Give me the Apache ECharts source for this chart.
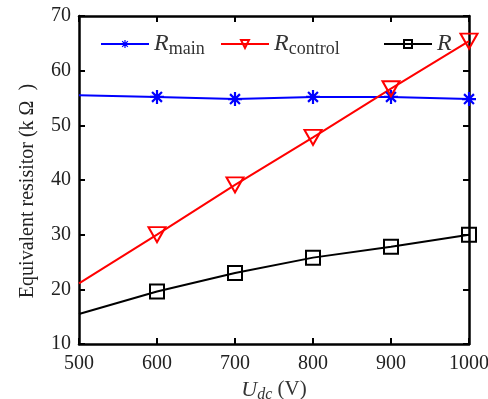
<!DOCTYPE html>
<html>
<head>
<meta charset="utf-8">
<script src="https://cdn.jsdelivr.net/npm/echarts@6/dist/echarts.min.js"></script>
<style>
  html, body { margin: 0; padding: 0; background: #fff; }
  #chart { width: 488px; height: 399px; }
</style>
</head>
<body>
<div id="chart"></div>
<script>
const udc = [500, 600, 700, 800, 900, 1000]
const rMain = [55.5, 55.2, 54.8, 55.2, 55.2, 54.8]
const rControl = [21.1, 30.0, 39.1, 47.8, 56.7, 65.4]
const rTotal = [15.5, 19.6, 23.0, 25.8, 27.8, 30.0]

const serif = 'Liberation Serif'
const star = 'path://M0,-10L0,10M-7.07,-7.07L7.07,7.07M-7.07,7.07L7.07,-7.07M-10,0L10,0'

// first point of every curve has no marker
const pts = (vals) => vals.map((v, i) => i === 0 ? { value: [udc[i], v], symbol: 'none' } : [udc[i], v])

const chart = echarts.init(document.getElementById('chart'))

const nameRich = {
  r: { fontFamily: serif, fontStyle: 'italic', fontSize: 24, color: '#333' },
  s: { fontFamily: serif, fontSize: 18, color: '#333', padding: [11, 0, 0, 0] }
}
const legendBase = {
  top: 27,
  itemWidth: 48,
  itemHeight: 10,
  itemGap: 4,
  textStyle: { rich: nameRich },
  formatter(name) {
    if (name === 'R') return '{r|R}'
    return '{r|R}{s|' + name.slice(1) + '}'
  }
}
const axisCommon = {
  axisLine: { show: true, lineStyle: { color: '#000', width: 2.5 } },
  axisTick: { show: true, inside: true, length: 6, lineStyle: { color: '#000', width: 2 } },
  splitLine: { show: false }
}

chart.setOption({
  animation: false,
  backgroundColor: '#fff',
  grid: { left: 79, right: 19, top: 16, bottom: 55, outerBoundsMode: 'none', containLabel: false },
  legend: [
    Object.assign({ left: 95, data: ['Rmain'], itemStyle: { borderWidth: 1.2 } }, legendBase),
    Object.assign({ left: 215, data: ['Rcontrol'] }, legendBase),
    Object.assign({ left: 378, data: ['R'] }, legendBase)
  ],
  xAxis: [
    Object.assign({
      type: 'value', min: 500, max: 1000, interval: 100,
      name: '{u|U}{d|dc}{v| (V)}',
      nameLocation: 'middle', nameGap: 27,
      nameTextStyle: {
        rich: {
          u: { fontFamily: serif, fontStyle: 'italic', fontSize: 22, color: '#333' },
          d: { fontFamily: serif, fontStyle: 'italic', fontSize: 16, color: '#333', padding: [10, 0, 0, 0] },
          v: { fontFamily: serif, fontSize: 21, color: '#333' }
        }
      },
      axisLabel: { fontFamily: serif, fontSize: 20, color: '#222', margin: 10, formatter: (v) => String(v) }
    }, axisCommon),
    Object.assign({
      type: 'value', min: 500, max: 1000, interval: 100, position: 'top',
      axisLabel: { show: false }
    }, axisCommon)
  ],
  yAxis: [
    Object.assign({
      type: 'value', min: 10, max: 70, interval: 10,
      name: 'Equivalent resisitor (k Ω  )',
      nameLocation: 'middle', nameGap: 41,
      nameTextStyle: { fontFamily: serif, fontSize: 20, color: '#222', padding: [0, 22, 0, 0] },
      axisLabel: { fontFamily: serif, fontSize: 20, color: '#222', margin: 8 }
    }, axisCommon),
    Object.assign({
      type: 'value', min: 10, max: 70, interval: 10, position: 'right',
      axisLabel: { show: false }
    }, axisCommon)
  ],
  series: [
    {
      name: 'Rmain', type: 'line', data: pts(rMain),
      symbol: star, symbolSize: 14,
      lineStyle: { color: '#0000ff', width: 2 },
      itemStyle: { color: '#0000ff', borderColor: '#0000ff', borderWidth: 2.2 }
    },
    {
      name: 'Rcontrol', type: 'line', data: pts(rControl),
      symbol: 'triangle', symbolRotate: 180, symbolSize: [17, 15],
      lineStyle: { color: '#ff0000', width: 2 },
      itemStyle: { color: 'rgba(0,0,0,0)', borderColor: '#ff0000', borderWidth: 2 }
    },
    {
      name: 'R', type: 'line', data: pts(rTotal),
      symbol: 'rect', symbolSize: 14,
      lineStyle: { color: '#000', width: 2 },
      itemStyle: { color: 'rgba(0,0,0,0)', borderColor: '#000', borderWidth: 2 }
    }
  ]
})
</script>
</body>
</html>
